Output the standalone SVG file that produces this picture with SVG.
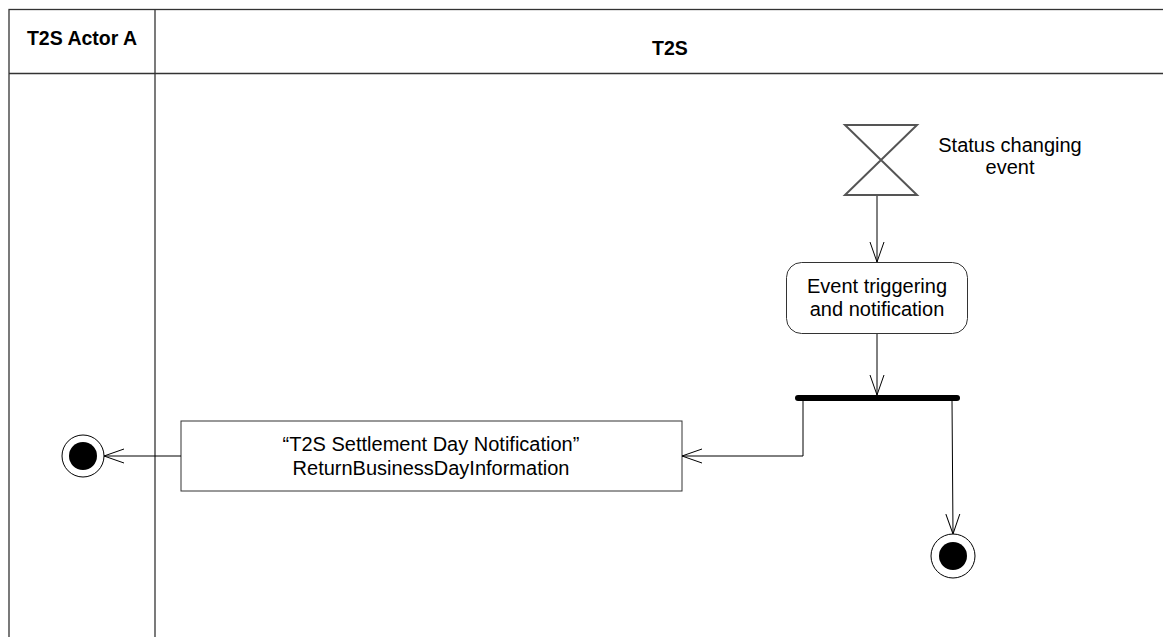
<svg xmlns="http://www.w3.org/2000/svg" width="1163" height="637" viewBox="0 0 1163 637">
<style>
.lane{fill:none;stroke:#333;stroke-width:1.3}
.t{font-family:"Liberation Sans",Arial,sans-serif;font-size:20px;fill:#000;text-anchor:middle}
.h{font-family:"Liberation Sans",Arial,sans-serif;font-size:19.5px;font-weight:bold;fill:#000;text-anchor:middle}
.c{fill:none;stroke:#000;stroke-width:1}
.node{fill:#fff;stroke:#333;stroke-width:1}
</style>
<defs>
<marker id="open" viewBox="0 0 20 20" refX="20" refY="10" markerWidth="20" markerHeight="20" markerUnits="userSpaceOnUse" orient="auto">
<path d="M0,3 L20,10 L0,17" fill="none" stroke="#000" stroke-width="1"/>
</marker>
</defs>
<rect width="1163" height="637" fill="#fff"/>
<g id="swimlanes">
<rect class="lane" x="9" y="9.5" width="1170" height="640"/>
<line class="lane" x1="9" y1="73.5" x2="1170" y2="73.5"/>
<line class="lane" x1="155" y1="9.5" x2="155" y2="640"/>
<text class="h" x="82" y="45">T2S Actor A</text>
<text class="h" x="670" y="55">T2S</text>
</g>
<g id="event">
<path d="M845,125 L917,125 L845,195 L917,195 Z" fill="none" stroke="#555" stroke-width="2"/>
<text class="t" x="1010" y="152">Status changing</text>
<text class="t" x="1010" y="174">event</text>
</g>
<g id="trigger">
<rect class="node" x="786.5" y="262.5" width="181" height="71" rx="15"/>
<text class="t" x="877" y="293">Event triggering</text>
<text class="t" x="877" y="316">and notification</text>
</g>
<g id="fork">
<line x1="798" y1="398" x2="957" y2="398" stroke="#000" stroke-width="6" stroke-linecap="round"/>
</g>
<g id="message">
<rect class="node" x="181" y="421" width="501" height="70"/>
<text class="t" x="431" y="451">“T2S Settlement Day Notification”</text>
<text class="t" x="431" y="475">ReturnBusinessDayInformation</text>
</g>
<g id="final-actor">
<circle cx="83" cy="456" r="21" fill="#fff" stroke="#000" stroke-width="1"/>
<circle cx="83" cy="456" r="14" fill="#000"/>
</g>
<g id="final-t2s">
<circle cx="953" cy="556" r="22" fill="#fff" stroke="#000" stroke-width="1"/>
<circle cx="953" cy="556" r="14" fill="#000"/>
</g>
<g id="connectors">
<line class="c" x1="877" y1="196" x2="877" y2="262" marker-end="url(#open)"/>
<line class="c" x1="877" y1="334" x2="877" y2="395" marker-end="url(#open)"/>
<polyline class="c" points="803,400 803,456 682,456" marker-end="url(#open)"/>
<line class="c" x1="952" y1="400" x2="953" y2="534" marker-end="url(#open)"/>
<line class="c" x1="181" y1="456" x2="104" y2="456" marker-end="url(#open)"/>
</g>
</svg>
